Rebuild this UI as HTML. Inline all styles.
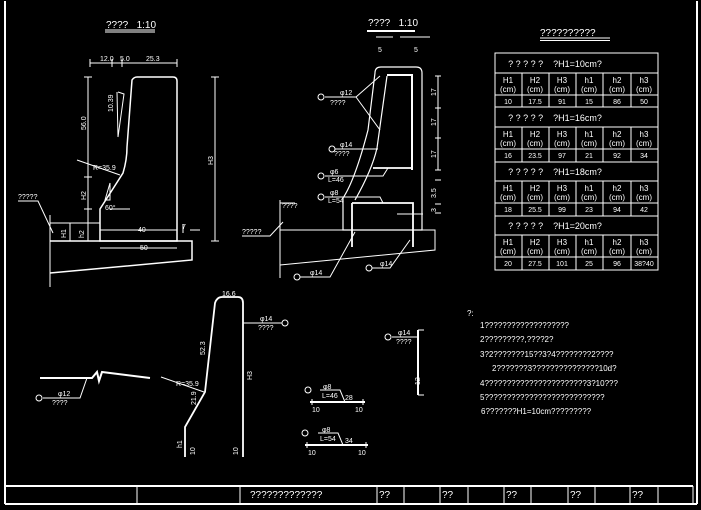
<!DOCTYPE html>
<html><head><meta charset="utf-8"><style>
html,body{margin:0;padding:0;background:#000;width:701px;height:510px;overflow:hidden}
svg{display:block}
text{font-family:"Liberation Sans",sans-serif;fill:#fff}
</style></head><body>
<svg width="701" height="510" viewBox="0 0 701 510" stroke="#fff" fill="none" stroke-width="1">
<!-- frame -->
<line x1="5" y1="1" x2="5" y2="504" stroke-width="2"/>
<line x1="697" y1="1" x2="697" y2="504" stroke-width="2"/>
<line x1="5" y1="504" x2="697" y2="504" stroke-width="2"/>
<line x1="5" y1="486" x2="693" y2="486" stroke-width="2"/>
<line x1="693" y1="486" x2="693" y2="504" stroke-width="1"/>
<g stroke-width="1">
<line x1="137" y1="486" x2="137" y2="504"/><line x1="240" y1="486" x2="240" y2="504"/>
<line x1="377" y1="486" x2="377" y2="504"/><line x1="404" y1="486" x2="404" y2="504"/>
<line x1="440" y1="486" x2="440" y2="504"/><line x1="468" y1="486" x2="468" y2="504"/>
<line x1="504" y1="486" x2="504" y2="504"/><line x1="531" y1="486" x2="531" y2="504"/>
<line x1="568" y1="486" x2="568" y2="504"/><line x1="595" y1="486" x2="595" y2="504"/>
<line x1="630" y1="486" x2="630" y2="504"/><line x1="658" y1="486" x2="658" y2="504"/>
</g>
<g stroke="none" font-size="10">
<text x="250" y="498">?????????????</text><text x="379" y="498">??</text>
<text x="442" y="498">??</text><text x="506" y="498">??</text>
<text x="570" y="498">??</text><text x="632" y="498">??</text>
</g>

<!-- Table -->
<text x="540" y="36" font-size="10" stroke="none">??????????</text>
<line x1="540" y1="38" x2="610" y2="38"/><line x1="540" y1="40.5" x2="610" y2="40.5"/>
<rect x="495" y="53" width="163" height="217"/>
<g>
<line x1="495" y1="73" x2="658" y2="73"/><line x1="495" y1="95" x2="658" y2="95"/><line x1="495" y1="107" x2="658" y2="107"/>
<line x1="495" y1="127" x2="658" y2="127"/><line x1="495" y1="149" x2="658" y2="149"/><line x1="495" y1="162" x2="658" y2="162"/>
<line x1="495" y1="181" x2="658" y2="181"/><line x1="495" y1="203" x2="658" y2="203"/><line x1="495" y1="216" x2="658" y2="216"/>
<line x1="495" y1="235" x2="658" y2="235"/><line x1="495" y1="257" x2="658" y2="257"/>
</g>
<g>
<path d="M522 73V107M549 73V107M576 73V107M603 73V107M631 73V107"/>
<path d="M522 127V162M549 127V162M576 127V162M603 127V162M631 127V162"/>
<path d="M522 181V216M549 181V216M576 181V216M603 181V216M631 181V216"/>
<path d="M522 235V270M549 235V270M576 235V270M603 235V270M631 235V270"/>
</g>
<g stroke="none" font-size="9" text-anchor="middle">
<text x="555" y="67">? ? ? ? ?&#160;&#160;&#160;&#160;?H1=10cm?</text>
<text x="555" y="121">? ? ? ? ?&#160;&#160;&#160;&#160;?H1=16cm?</text>
<text x="555" y="175">? ? ? ? ?&#160;&#160;&#160;&#160;?H1=18cm?</text>
<text x="555" y="229">? ? ? ? ?&#160;&#160;&#160;&#160;?H1=20cm?</text>
<g font-size="8">
<text x="508" y="83">H1</text><text x="508" y="92">(cm)</text><text x="535" y="83">H2</text><text x="535" y="92">(cm)</text><text x="562" y="83">H3</text><text x="562" y="92">(cm)</text><text x="589" y="83">h1</text><text x="589" y="92">(cm)</text><text x="617" y="83">h2</text><text x="617" y="92">(cm)</text><text x="644" y="83">h3</text><text x="644" y="92">(cm)</text>
<text x="508" y="137">H1</text><text x="508" y="146">(cm)</text><text x="535" y="137">H2</text><text x="535" y="146">(cm)</text><text x="562" y="137">H3</text><text x="562" y="146">(cm)</text><text x="589" y="137">h1</text><text x="589" y="146">(cm)</text><text x="617" y="137">h2</text><text x="617" y="146">(cm)</text><text x="644" y="137">h3</text><text x="644" y="146">(cm)</text>
<text x="508" y="191">H1</text><text x="508" y="200">(cm)</text><text x="535" y="191">H2</text><text x="535" y="200">(cm)</text><text x="562" y="191">H3</text><text x="562" y="200">(cm)</text><text x="589" y="191">h1</text><text x="589" y="200">(cm)</text><text x="617" y="191">h2</text><text x="617" y="200">(cm)</text><text x="644" y="191">h3</text><text x="644" y="200">(cm)</text>
<text x="508" y="245">H1</text><text x="508" y="254">(cm)</text><text x="535" y="245">H2</text><text x="535" y="254">(cm)</text><text x="562" y="245">H3</text><text x="562" y="254">(cm)</text><text x="589" y="245">h1</text><text x="589" y="254">(cm)</text><text x="617" y="245">h2</text><text x="617" y="254">(cm)</text><text x="644" y="245">h3</text><text x="644" y="254">(cm)</text>
</g>
<g font-size="7">
<text x="508" y="104">10</text><text x="535" y="104">17.5</text><text x="562" y="104">91</text><text x="589" y="104">15</text><text x="617" y="104">86</text><text x="644" y="104">50</text>
<text x="508" y="158">16</text><text x="535" y="158">23.5</text><text x="562" y="158">97</text><text x="589" y="158">21</text><text x="617" y="158">92</text><text x="644" y="158">34</text>
<text x="508" y="212">18</text><text x="535" y="212">25.5</text><text x="562" y="212">99</text><text x="589" y="212">23</text><text x="617" y="212">94</text><text x="644" y="212">42</text>
<text x="508" y="266">20</text><text x="535" y="266">27.5</text><text x="562" y="266">101</text><text x="589" y="266">25</text><text x="617" y="266">96</text><text x="644" y="266">38?40</text>
</g>
</g>

<!-- Left drawing -->
<text x="106" y="28" font-size="10" stroke="none">????&#160;&#160;&#160;1:10</text>
<line x1="105" y1="30" x2="155" y2="30"/><line x1="105" y1="32" x2="155" y2="32"/>
<path d="M100 241V209L123 173Q127 160 127 147L132 80Q134 77 137 77H173Q177 77 177 81V241Z" stroke-width="1.5"/>
<path d="M50 241H192V260L50 273" stroke-width="1.5"/>
<line x1="50" y1="215" x2="50" y2="287"/>
<path d="M50 223H100M70 223V241"/>
<line x1="88" y1="77" x2="88" y2="241"/><line x1="84" y1="77" x2="92" y2="77"/>
<line x1="84" y1="177" x2="92" y2="177"/><line x1="84" y1="209" x2="92" y2="209"/>
<line x1="215" y1="77" x2="215" y2="241"/><line x1="211" y1="77" x2="219" y2="77"/><line x1="211" y1="241" x2="219" y2="241"/>
<line x1="90" y1="63" x2="177" y2="63"/><path d="M90 59V67M112 59V67M122 59V67M177 59V67"/>
<line x1="100" y1="230" x2="177" y2="230"/><line x1="100" y1="248" x2="177" y2="248"/>
<path d="M77 160L120 175M117 92L118 137M118 92L124 94L118 137"/>
<path d="M105 200L110 183L110 200Z"/>
<path d="M110 209H130M18 201H38L53 233"/>
<path d="M190 230H200M183 224V233"/>
<g stroke="none" font-size="7">
<text x="100" y="61">12.0</text><text x="120" y="61">5.0</text><text x="146" y="61">25.3</text>
<text x="18" y="199">?????</text><text x="138" y="232">40</text><text x="140" y="250">50</text><text x="182" y="229">7</text>
<text x="93" y="170">R=35.9</text><text x="105" y="210">60°</text>
<text transform="translate(86,130) rotate(-90)">56.0</text>
<text transform="translate(86,200) rotate(-90)">H2</text>
<text transform="translate(113,112) rotate(-90)">10.39</text>
<text transform="translate(213,165) rotate(-90)">H3</text>
<text transform="translate(66,238) rotate(-90)">H1</text>
<text transform="translate(84,238) rotate(-90)">h2</text>
</g>

<!-- Middle drawing -->
<text x="368" y="26" font-size="10" stroke="none">????&#160;&#160;&#160;1:10</text>
<line x1="367" y1="31" x2="415" y2="31" stroke-width="2"/>
<path d="M343 230V198Q355 180 368 130L375 73Q375 67 381 67H416Q422 67 422 73V230Z" stroke-width="1.2"/>
<path d="M280 230H435V250L280 265"/>
<line x1="280" y1="200" x2="280" y2="278"/><path d="M280 203H295"/>
<path d="M387 76L377 148Q372 170 355 200" stroke-width="1.2"/>
<path d="M387 75H412V170" stroke-width="2"/>
<path d="M373 168H413M352 203H413V247M352 203V247" stroke-width="1.8"/>
<line x1="376" y1="37" x2="393" y2="37"/><line x1="400" y1="37" x2="430" y2="37"/>
<line x1="438" y1="76" x2="438" y2="170"/><path d="M435 76H441M435 108H441M435 138H441M435 170H441"/>
<path d="M435 180H441M435 204H441M435 213H441"/>
<path d="M325 97H356L380 76M356 97L380 130"/><circle cx="321" cy="97" r="3"/>
<path d="M335 149H378"/><circle cx="332" cy="149" r="3"/>
<path d="M325 176H383L388 168"/><circle cx="321" cy="176" r="3"/>
<path d="M325 197H380L383 203"/><circle cx="321" cy="197" r="3"/>
<path d="M300 277H330L355 232"/><circle cx="297" cy="277" r="3"/>
<path d="M372 268H390L410 240"/><circle cx="369" cy="268" r="3"/>
<path d="M242 236H270L283 222"/><path d="M397 214H423"/>
<g stroke="none" font-size="7">
<text x="378" y="52">5</text><text x="414" y="52">5</text>
<text x="340" y="95">φ12</text><text x="330" y="105">????</text>
<text x="340" y="147">φ14</text><text x="334" y="156">????</text>
<text x="330" y="174">φ6</text><text x="328" y="182">L=46</text>
<text x="330" y="195">φ8</text><text x="328" y="203">L=54</text>
<text x="310" y="275">φ14</text><text x="380" y="266">φ14</text>
<text x="282" y="208">????</text><text x="242" y="234">?????</text>
<text transform="translate(436,96) rotate(-90)">17</text>
<text transform="translate(436,126) rotate(-90)">17</text>
<text transform="translate(436,158) rotate(-90)">17</text>
<text transform="translate(436,198) rotate(-90)">3.5</text>
<text transform="translate(436,212) rotate(-90)">3</text>
</g>

<!-- Bottom-left bar -->
<path d="M185 457V427L205 392L215 303Q217 297 222 297H238Q243 297 243 303V457" stroke-width="1.8"/>
<path d="M40 378H92L97 372L99 381L102 372L150 378" stroke-width="2"/>
<path d="M43 398H80L87 378"/><circle cx="39" cy="398" r="3"/>
<path d="M243 323H282"/><circle cx="285" cy="323" r="3"/>
<path d="M161 377L204 392"/>
<g stroke="none" font-size="7">
<text x="222" y="296">16.6</text><text x="58" y="396">φ12</text><text x="52" y="405">????</text>
<text x="260" y="321">φ14</text><text x="258" y="330">????</text>
<text x="176" y="386">R=35.9</text>
<text transform="translate(205,355) rotate(-90)">52.3</text>
<text transform="translate(252,380) rotate(-90)">H3</text>
<text transform="translate(182,448) rotate(-90)">h1</text>
<text transform="translate(195,455) rotate(-90)">10</text>
<text transform="translate(238,455) rotate(-90)">10</text>
<text transform="translate(196,405) rotate(-90)">21.9</text>
</g>

<!-- small bars -->
<path d="M310 402H365" stroke-width="2"/><path d="M312 399V405M363 399V405"/>
<path d="M320 390H340L345 402"/><circle cx="308" cy="390" r="3"/>
<path d="M305 445H368" stroke-width="2"/><path d="M307 442V448M366 442V448"/>
<path d="M318 433H338L343 445"/><circle cx="305" cy="433" r="3"/>
<path d="M418 330V395" stroke-width="2"/><path d="M418 330H424M418 395H424"/>
<path d="M392 337H418"/><circle cx="388" cy="337" r="3"/>
<g stroke="none" font-size="7">
<text x="323" y="389">φ8</text><text x="322" y="398">L=46</text><text x="345" y="400">28</text>
<text x="312" y="412">10</text><text x="355" y="412">10</text>
<text x="322" y="432">φ8</text><text x="320" y="441">L=54</text><text x="345" y="443">34</text>
<text x="308" y="455">10</text><text x="358" y="455">10</text>
<text x="398" y="335">φ14</text><text x="396" y="344">????</text>
<text transform="translate(420,385) rotate(-90)">12</text>
</g>

<!-- notes -->
<g stroke="none" font-size="8">
<text x="467" y="316">?:</text>
<text x="480" y="328">1???????????????????</text>
<text x="480" y="342">2?????????,????2?</text>
<text x="480" y="357">3?2???????15??3?4????????2????</text>
<text x="492" y="371">2???????3???????????????10d?</text>
<text x="480" y="386">4???????????????????????3?10???</text>
<text x="480" y="400">5???????????????????????????</text>
<text x="481" y="414">6???????H1=10cm?????????</text>
</g>
</svg>
</body></html>
